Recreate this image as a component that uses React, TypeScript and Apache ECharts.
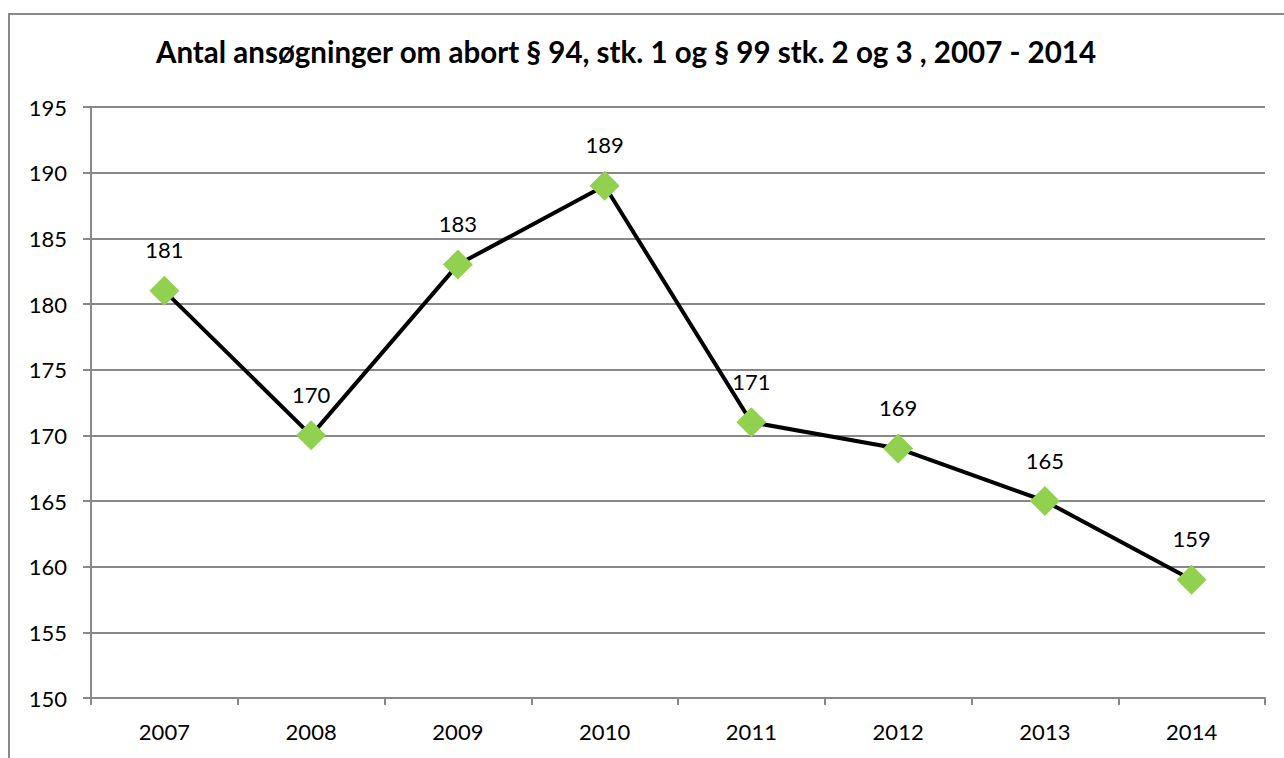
import React, { useEffect, useRef } from "react";
import * as echarts from "echarts";

const title = "Antal ansøgninger om abort § 94, stk. 1 og § 99 stk. 2 og 3 , 2007 - 2014";
const years = ["2007", "2008", "2009", "2010", "2011", "2012", "2013", "2014"];
const values = [181, 170, 183, 189, 171, 169, 165, 159];
const yMin = 150;
const yMax = 195;
const yStep = 5;

const FONT = "Lato, 'Open Sans', sans-serif";

export default function App() {
  const ref = useRef<HTMLDivElement>(null);
  useEffect(() => {
    if (!ref.current) return;
    const chart = echarts.init(ref.current, undefined, { renderer: "svg" });
    chart.setOption({
      animation: false,
      backgroundColor: "#fff",
      title: {
        text: title,
        left: 621,
        textAlign: "center",
        top: 31,
        textStyle: { fontFamily: FONT, fontWeight: "bold", fontSize: 29.5, color: "#000" },
      },
      graphic: [
        {
          type: "rect",
          shape: { x: 9, y: 14, width: 1400, height: 900 },
          style: { fill: "none", stroke: "#888", lineWidth: 2 },
          silent: true,
        },
      ],
      grid: { left: 91, top: 107, right: 19, bottom: 60, containLabel: false },
      xAxis: {
        type: "category",
        data: years,
        boundaryGap: true,
        axisLine: { show: true, lineStyle: { color: "#888", width: 2 } },
        axisTick: { show: true, alignWithLabel: false, length: 7, lineStyle: { color: "#888", width: 2 } },
        axisLabel: { fontFamily: FONT, fontSize: 22, color: "#000", margin: 22 },
      },
      yAxis: {
        type: "value",
        min: yMin,
        max: yMax,
        interval: yStep,
        axisLine: { show: true, lineStyle: { color: "#888", width: 2 } },
        axisTick: { show: true, length: 8, lineStyle: { color: "#888", width: 2 } },
        axisLabel: { fontFamily: FONT, fontSize: 22, color: "#000", margin: 24 },
        splitLine: { show: true, lineStyle: { color: "#888", width: 2 } },
      },
      series: [
        {
          type: "line",
          data: values,
          symbol: "diamond",
          symbolSize: 30,
          lineStyle: { color: "#000", width: 4 },
          itemStyle: { color: "#92D050" },
          label: {
            show: true,
            position: "top",
            distance: 15,
            fontFamily: FONT,
            fontSize: 22,
            color: "#000",
          },
        },
      ],
    });
    return () => chart.dispose();
  }, []);
  return (
    <div
      ref={ref}
      style={{ position: "absolute", left: 0, top: 0, width: 1284, height: 758 }}
    />
  );
}
